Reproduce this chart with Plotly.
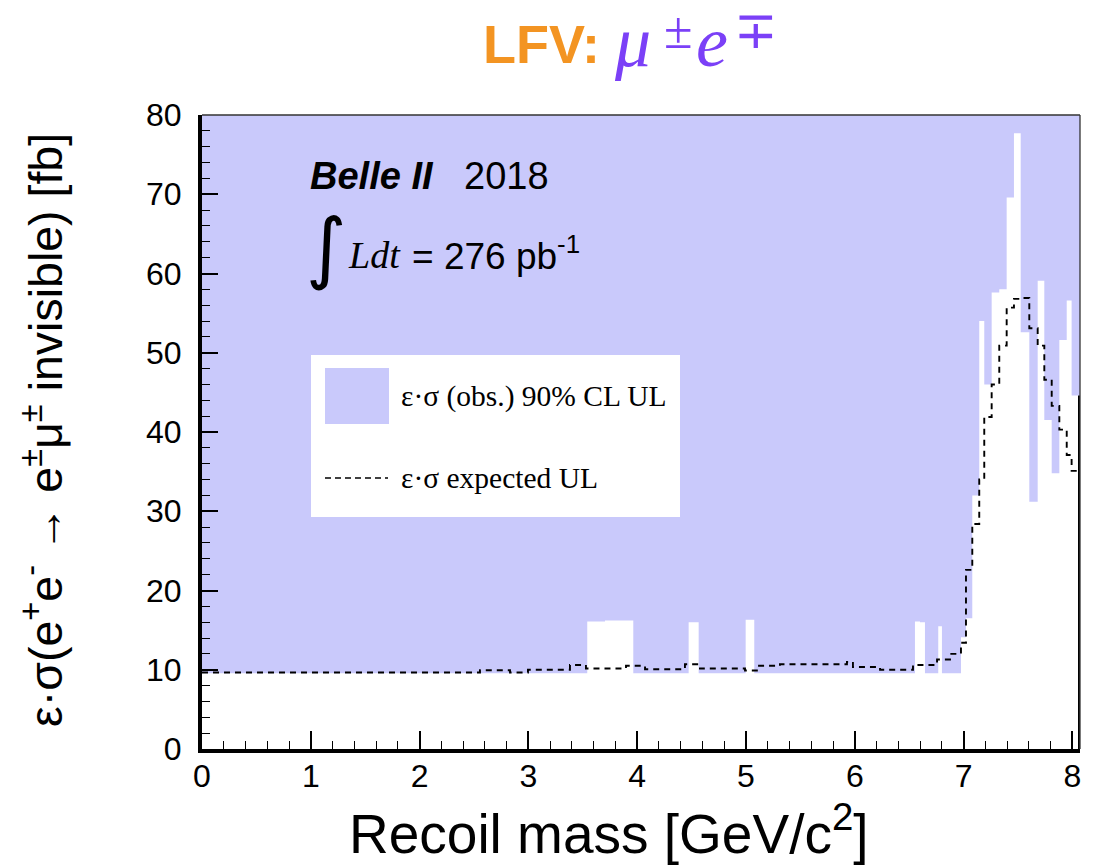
import plotly.graph_objects as go

# ---------------- data ----------------
# observed 90% CL upper limit (eps*sigma, fb) per recoil-mass bin [GeV/c^2]
obs_edges = [0.000, 3.541, 3.704, 3.964, 4.473, 4.565, 4.997, 5.076, 6.553, 6.599,
             6.645, 6.767, 6.801, 6.976, 7.022, 7.080, 7.144, 7.190, 7.258, 7.328,
             7.396, 7.463, 7.525, 7.604, 7.681, 7.742, 7.810, 7.880, 7.948, 7.993, 8.070]
obs_ul = [9.55, 16.1, 16.2, 9.55, 16.0, 9.55, 16.3, 9.55, 16.1, 16.0,
          9.55, 15.5, 9.55, 14.1, 16.5, 32.0, 54.0, 46.0, 57.6, 58.0,
          69.6, 77.7, 52.6, 31.2, 59.1, 41.5, 34.8, 51.6, 56.6, 44.6]

# expected upper limit
exp_edges = [0.000, 2.555, 2.831, 2.996, 3.382, 3.529, 3.897, 4.072, 4.439, 4.577,
             4.991, 5.110, 5.312, 5.928, 5.983, 6.232, 6.535, 6.756, 6.875, 6.976,
             7.022, 7.080, 7.144, 7.190, 7.258, 7.328, 7.396, 7.463, 7.525, 7.604,
             7.681, 7.742, 7.810, 7.880, 7.948, 7.993, 8.070]
exp_ul = [9.65, 9.93, 9.65, 10.0, 10.6, 10.15, 10.5, 10.06, 10.7, 10.15,
          9.9, 10.5, 10.7, 11.0, 10.35, 10.0, 10.6, 11.3, 12.0, 13.4,
          22.6, 28.4, 34.0, 41.9, 46.0, 50.9, 55.7, 56.8, 56.9, 53.1,
          50.9, 46.6, 43.3, 40.3, 37.1, 35.1]

x_range = [0, 8.07]
y_range = [0, 80]
x_ticks = [0, 1, 2, 3, 4, 5, 6, 7, 8]
y_ticks = [0, 10, 20, 30, 40, 50, 60, 70, 80]

# ---------------- style ----------------
W, H = 1099, 867
L, R, T, B = 202, 19, 115, 118
BLUE = "#c9c9fb"
SANS = "Liberation Sans, Arial, Helvetica, sans-serif"
SERIF = "Liberation Serif, Times New Roman, serif"

def px(xp):
    return (xp - L) / (W - L - R)

def py(yp):
    return (H - B - yp) / (H - T - B)

fig = go.Figure()

# white area below the observed limit (excluded region is the blue background)
fig.add_trace(go.Scatter(
    x=obs_edges, y=obs_ul + [obs_ul[-1]],
    mode="lines", line=dict(shape="hv", width=0, color="white"),
    fill="tozeroy", fillcolor="white", hoverinfo="skip", showlegend=False))

# expected limit, dashed step
fig.add_trace(go.Scatter(
    x=exp_edges, y=exp_ul + [exp_ul[-1]],
    mode="lines", line=dict(shape="hv", width=1.9, color="black", dash="6px,5px"),
    hoverinfo="skip", showlegend=False))

# histogram closing edge at the right border
fig.add_trace(go.Scatter(
    x=[obs_edges[-1], obs_edges[-1]], y=[0, obs_ul[-1]],
    mode="lines", line=dict(width=4, color="black"), cliponaxis=False,
    hoverinfo="skip", showlegend=False))

fig.update_layout(
    width=W, height=H,
    margin=dict(l=L, r=R, t=T, b=B),
    paper_bgcolor="white", plot_bgcolor=BLUE,
    showlegend=False,
    font=dict(family=SANS, color="black"),
)

fig.update_xaxes(
    range=x_range, tickvals=x_ticks, ticktext=[str(v) for v in x_ticks],
    ticks="inside", ticklen=18, tickwidth=1.6, tickcolor="black",
    minor=dict(dtick=0.2, ticks="inside", ticklen=8, tickwidth=1.4, tickcolor="black"),
    showline=True, linewidth=4, linecolor="black", mirror=False,
    showgrid=False, zeroline=False,
    tickfont=dict(family=SANS, size=32, color="black"), ticklabelstandoff=-4,
)
fig.update_yaxes(
    range=y_range, tickvals=y_ticks, ticktext=[str(v) for v in y_ticks],
    ticks="inside", ticklen=16, tickwidth=1.6, tickcolor="black",
    minor=dict(dtick=2, ticks="inside", ticklen=8, tickwidth=1.4, tickcolor="black"),
    showline=True, linewidth=4, linecolor="black", mirror=False,
    showgrid=False, zeroline=False,
    tickfont=dict(family=SANS, size=32, color="black"), ticklabelstandoff=10,
)

shapes = [
    # thin frame top / right
    dict(type="line", xref="paper", yref="paper", x0=0, x1=1, y0=1, y1=1,
         line=dict(color="#333333", width=1.3)),
    dict(type="line", xref="paper", yref="paper", x0=1, x1=1, y0=0, y1=1,
         line=dict(color="#333333", width=1.3)),
    # legend box
    dict(type="rect", xref="paper", yref="paper", x0=px(311), x1=px(680), y0=py(517), y1=py(355),
         fillcolor="white", line=dict(width=0)),
    dict(type="rect", xref="paper", yref="paper", x0=px(325), x1=px(389), y0=py(424), y1=py(368),
         fillcolor=BLUE, line=dict(width=0)),
    dict(type="line", xref="paper", yref="paper", x0=px(325), x1=px(388), y0=py(478), y1=py(478),
         line=dict(color="black", width=1.5, dash="6px,4px")),
]
fig.update_layout(shapes=shapes)

ann = []
def add(text, x, y, size, family=SANS, color="black", xanchor="left", yanchor="middle",
        angle=0, style="normal", weight="normal"):
    ann.append(dict(text=text, x=px(x), y=py(y), xref="paper", yref="paper",
                    showarrow=False, xanchor=xanchor, yanchor=yanchor, textangle=angle,
                    font=dict(family=family, size=size, color=color, style=style, weight=weight)))

# title
PURPLE = "#7b40f7"
add("LFV:", 602, 44, 54, color="#f39422", xanchor="right", weight="bold")
add("μ", 612, 42, 72, family=SERIF, color=PURPLE, style="italic")
add("±", 662, 0, 52, family=SERIF, color=PURPLE, yanchor="top")
add("e", 694, 42, 72, family=SERIF, color=PURPLE, style="italic")
add("∓", 732, 0, 52, family=SERIF, color=PURPLE, yanchor="top")

# axis titles
add("Recoil mass [GeV/c<sup>2</sup>]", 609, 867, 55, xanchor="center", yanchor="bottom")
add("ε·σ(e<sup>+</sup>e<sup>-</sup> → e<sup>±</sup>μ<sup>±</sup> invisible) [fb]", 42, 430, 46.5,
    xanchor="center", angle=-90)

# Belle II label
add("Belle II", 308, 176, 38, style="italic", weight="bold")
add("2018", 462, 176, 38)
add("∫", 304, 247, 78, family="DejaVu Sans")
add("Ldt", 346, 255, 38, family=SERIF, style="italic")
add("= 276 pb<sup>-1</sup>", 410, 253, 37)

# legend texts
add("ε·σ (obs.) 90% CL UL", 399, 396, 29.5, family=SERIF)
add("ε·σ expected UL", 399, 478, 29.5, family=SERIF)

fig.update_layout(annotations=ann)

fig.write_html("out.html")
